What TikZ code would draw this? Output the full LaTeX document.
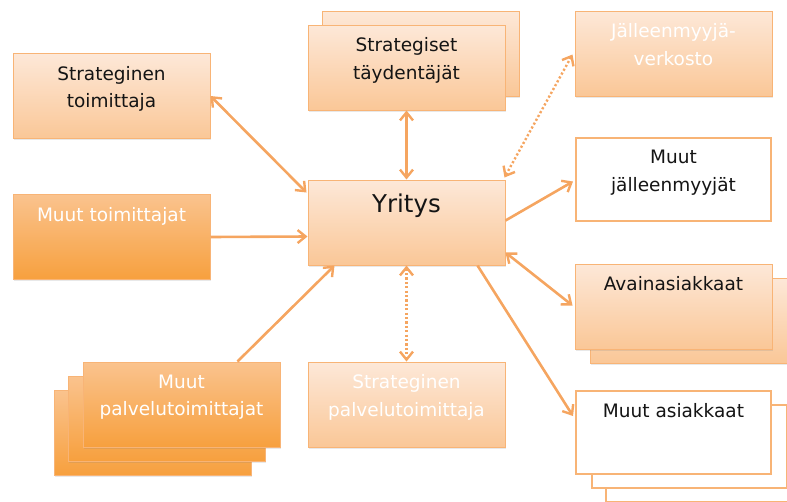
\documentclass[tikz,border=0pt]{standalone}
\usepackage{fontspec}
\setmainfont{DejaVu Sans}
\usetikzlibrary{arrows.meta,calc,shadows}
\definecolor{peachtop}{HTML}{FDE8D8}
\definecolor{peachbot}{HTML}{FAC797}
\definecolor{deeptop}{HTML}{FAC38E}
\definecolor{deepbot}{HTML}{F7A03E}
\definecolor{edgeor}{HTML}{F8B476}
\definecolor{linkor}{HTML}{F5A560}
\definecolor{inktext}{HTML}{141414}
\tikzset{
  box/.style={rectangle, draw=edgeor, line width=1pt,
    minimum width=197pt, minimum height=85pt, inner sep=0pt,
    drop shadow={opacity=0.18, shadow xshift=0.8pt, shadow yshift=-1.6pt}},
  lightbox/.style={box, top color=peachtop, bottom color=peachbot},
  deepbox/.style={box, top color=deeptop, bottom color=deepbot},
  plainbox/.style={rectangle, draw=edgeor, line width=2pt, fill=white,
    minimum width=195pt, minimum height=83pt, inner sep=0pt},
  caption/.style={align=center, font=\fontsize{18.5}{27.5}\selectfont,
    anchor=north, inner sep=0pt},
  darkcap/.style={caption, text=inktext},
  whitecap/.style={caption, text=white},
  link/.style={draw=linkor, line width=2.6pt,
    arrows={-Straight Barb[length=8pt, width=13pt, line width=2.4pt]}},
  twoway/.style={link, arrows={Straight Barb[length=8pt, width=13pt, line width=2.4pt]-Straight Barb[length=8pt, width=13pt, line width=2.4pt]}},
  dotted link/.style={twoway, dash pattern=on 2.2pt off 2.2pt, line width=2.4pt},
}
\begin{document}
\begin{tikzpicture}[x=1pt, y=-1pt]
\useasboundingbox (0,0) rectangle (787,501);

% central company box
\node[lightbox] (yr) at (406.5,222.5) {};
\node[darkcap, font=\fontsize{24.5}{28}\selectfont] (yrt) at ($(yr.north)+(0,14)$) {Yritys};

% supplier side
\node[lightbox] (st) at (111.5,96) {};
\node[darkcap] (stt) at ($(st.north)+(0,13)$) {Strateginen\\toimittaja};

\node[deepbox] (mt) at (111.5,237) {};
\node[whitecap] (mtt) at ($(mt.north)+(0,13)$) {Muut toimittajat};

% complementors (stacked)
\node[lightbox] (sd2) at (421,53.5) {};
\node[lightbox] (sd) at (406.5,67.5) {};
\node[darkcap] (sdt) at ($(sd.north)+(0,13)$) {Strategiset\\täydentäjät};

% service providers
\node[deepbox] (mp3) at (153,432.5) {};
\node[deepbox] (mp2) at (167,418.5) {};
\node[deepbox] (mp) at (181.5,404.5) {};
\node[whitecap] (mpt) at ($(mp.north)+(0,13)$) {Muut\\palvelutoimittajat};

\node[lightbox] (sp) at (406.5,404.5) {};
\node[whitecap] (spt) at ($(sp.north)+(0,13)$) {Strateginen\\palvelutoimittaja};

% reseller side
\node[lightbox] (jv) at (673.5,53.5) {};
\node[whitecap] (jvt) at ($(jv.north)+(0,13)$) {Jälleenmyyjä-\\verkosto};

\node[plainbox] (mj) at (673.5,179.5) {};
\node[darkcap] (mjt) at ($(mj.north)+(0,13)$) {Muut\\jälleenmyyjät};

% customers
\node[lightbox] (aa2) at (689,320.5) {};
\node[lightbox] (aa) at (673.5,306.5) {};
\node[darkcap] (aat) at ($(aa.north)+(0,13)$) {Avainasiakkaat};

\node[plainbox] (ma3) at (703,460.5) {};
\node[plainbox] (ma2) at (689,446.5) {};
\node[plainbox] (ma) at (673.5,432.5) {};
\node[darkcap] (mat) at ($(ma.north)+(0,13)$) {Muut asiakkaat};

% connectors
\draw[twoway] (st.east) -- ($(yr.north west)+(-1,13)$);
\draw[link] (mt.east) -- ($(yr.west)+(0,14)$);
\draw[twoway] (sd.south) -- (yr.north);
\draw[dotted link] ($(jv.west)+(-2,1)$) -- ($(yr.north east)+(-1,-2)$);
\draw[link] ($(yr.east)+(0,-2)$) -- ($(mj.west)+(-2,2)$);
\draw[twoway] ($(yr.south east)+(0,-13)$) -- ($(aa.west)+(-2,-1)$);
\draw[link] ($(yr.south east)+(-28,0)$) -- ($(ma.north west)+(-2,26)$);
\draw[link] ($(mp.north east)+(-43,0)$) -- ($(yr.south west)+(27,0)$);
\draw[dotted link] (yr.south) -- (sp.north);
\end{tikzpicture}
\end{document}
